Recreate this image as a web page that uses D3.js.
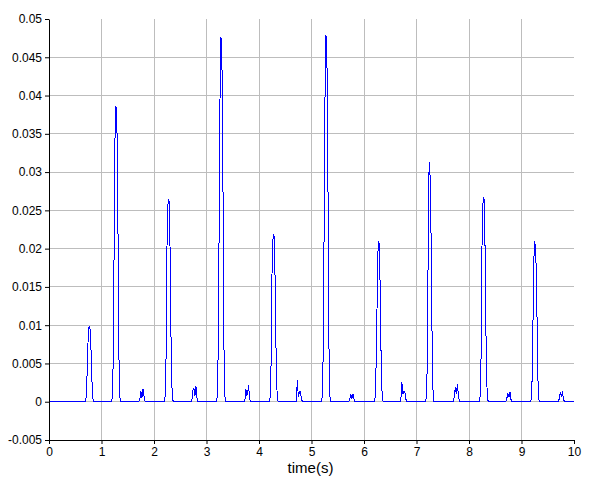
<!DOCTYPE html>
<html>
<head>
<meta charset="utf-8">
<script src="https://cdn.jsdelivr.net/npm/d3@7"></script>
<style>
  html, body { margin: 0; padding: 0; background: #ffffff; }
  svg { display: block; }
  .tick text { font-family: "Liberation Sans", Arial, sans-serif; font-size: 12px; fill: #000; }
</style>
</head>
<body>
<svg id="chart" width="594" height="483"></svg>
<script>
// ---- data ----
const time = [
  0.00,
  0.69, 0.71, 0.73, 0.75, 0.77, 0.79, 0.81, 0.83, 0.85,
  1.19, 1.21, 1.23, 1.25, 1.27, 1.29, 1.31, 1.33, 1.35, 1.37,
  1.71, 1.73, 1.75, 1.77, 1.79, 1.81, 1.83, 1.85,
  2.19, 2.21, 2.23, 2.25, 2.27, 2.29, 2.31, 2.33, 2.35, 2.37,
  2.72, 2.74, 2.76, 2.78, 2.80, 2.82, 2.84,
  3.19, 3.21, 3.23, 3.25, 3.27, 3.29, 3.31, 3.33, 3.35, 3.37,
  3.72, 3.74, 3.75, 3.77, 3.79, 3.80, 3.82, 3.84,
  4.19, 4.21, 4.23, 4.25, 4.27, 4.29, 4.31, 4.33, 4.35, 4.37,
  4.71, 4.73, 4.75, 4.77, 4.79, 4.81, 4.83,
  5.19, 5.21, 5.23, 5.25, 5.27, 5.29, 5.31, 5.33, 5.35, 5.37,
  5.71, 5.73, 5.75, 5.77, 5.79, 5.81, 5.83,
  6.19, 6.21, 6.23, 6.25, 6.27, 6.29, 6.31, 6.33, 6.35, 6.37,
  6.70, 6.72, 6.74, 6.76, 6.78, 6.80, 6.82,
  7.17, 7.19, 7.21, 7.23, 7.25, 7.27, 7.29, 7.31, 7.33,
  7.70, 7.72, 7.74, 7.76, 7.78, 7.80, 7.82,
  8.19, 8.21, 8.23, 8.25, 8.27, 8.29, 8.31, 8.33, 8.35, 8.37,
  8.70, 8.72, 8.74, 8.76, 8.78, 8.80, 8.82,
  9.17, 9.19, 9.21, 9.23, 9.25, 9.27, 9.29, 9.31, 9.33, 9.35,
  9.70, 9.72, 9.74, 9.76, 9.78, 9.80, 9.82,
  10.00
];
const amplitude = [
  0,
  0, 0.0006, 0.0045, 0.0094, 0.0099, 0.0092, 0.0044, 0.0006, 0,
  0, 0.0008, 0.0083, 0.0321, 0.0385, 0.0384, 0.0265, 0.0066, 0.0005, 0,
  0, 0.0003, 0.0014, 0.0005, 0.0017, 0.0007, 0.0001, 0,
  0, 0.0006, 0.0058, 0.0221, 0.0265, 0.0262, 0.0183, 0.0045, 0.0004, 0,
  0, 0.0015, 0.0018, 0.0008, 0.0020, 0.0004, 0,
  0, 0.0010, 0.0105, 0.0350, 0.0475, 0.0473, 0.0330, 0.0082, 0.0007, 0,
  0, 0.0006, 0.0016, 0.0008, 0.0015, 0.0022, 0.0005, 0,
  0, 0.0005, 0.0048, 0.0181, 0.0218, 0.0216, 0.0150, 0.0037, 0.0003, 0,
  0, 0.0028, 0.0006, 0.0013, 0.0013, 0.0003, 0,
  0, 0.0009, 0.0100, 0.0352, 0.0478, 0.0476, 0.0330, 0.0083, 0.0007, 0,
  0, 0.0004, 0.0010, 0.0004, 0.0010, 0.0003, 0,
  0, 0.0005, 0.0046, 0.0130, 0.0209, 0.0207, 0.0144, 0.0036, 0.0003, 0,
  0, 0.0026, 0.0010, 0.0014, 0.0012, 0.0003, 0,
  0, 0.0006, 0.0065, 0.0290, 0.0313, 0.0267, 0.0120, 0.0020, 0,
  0, 0.0007, 0.0019, 0.0010, 0.0023, 0.0006, 0,
  0, 0.0006, 0.0058, 0.0222, 0.0267, 0.0264, 0.0184, 0.0046, 0.0004, 0,
  0, 0.0004, 0.0011, 0.0006, 0.0013, 0.0003, 0,
  0, 0.0005, 0.0046, 0.0175, 0.0210, 0.0200, 0.0140, 0.0035, 0.0003, 0,
  0, 0.0004, 0.0012, 0.0006, 0.0014, 0.0003, 0,
  0
];
const xTicks = [0, 1, 2, 3, 4, 5, 6, 7, 8, 9, 10];
const yTicks = [-0.005, 0, 0.005, 0.01, 0.015, 0.02, 0.025, 0.03, 0.035, 0.04, 0.045, 0.05];
const yTickLabels = ["-0.005", "0", "0.005", "0.01", "0.015", "0.02", "0.025", "0.03", "0.035", "0.04", "0.045", "0.05"];
const xLabel = "time(s)";

// ---- layout ----
const mLeft = 49, mRight = 574, mTop = 19, mBottom = 440;
const svg = d3.select("#chart");
const x = d3.scaleLinear().domain([0, 10]).range([mLeft, mRight]);
const y = d3.scaleLinear().domain([-0.005, 0.05]).range([mBottom, mTop]);

// grid
const grid = svg.append("g").attr("shape-rendering", "crispEdges");
grid.selectAll("line.vx").data(xTicks.filter(d => d > 0 && d < 10)).join("line")
  .attr("x1", d => x(d)).attr("x2", d => x(d)).attr("y1", mTop).attr("y2", mBottom)
  .attr("stroke", "#bdbdbd").attr("stroke-width", 1);
grid.selectAll("line.hy").data(yTicks.filter(d => d > -0.005 && d < 0.05)).join("line")
  .attr("x1", mLeft).attr("x2", mRight).attr("y1", d => y(d)).attr("y2", d => y(d))
  .attr("stroke", "#bdbdbd").attr("stroke-width", 1);

// signal line
const pts = time.map((t, i) => [t, amplitude[i]]);
svg.append("path")
  .datum(pts)
  .attr("fill", "none")
  .attr("stroke", "#0000ff")
  .attr("stroke-width", 1)
  .attr("shape-rendering", "crispEdges")
  .attr("d", d3.line().x(d => x(d[0])).y(d => y(d[1])));

// axes
const xAxis = d3.axisBottom(x).tickValues(xTicks).tickFormat(d3.format("d")).tickSize(4).tickSizeOuter(0).tickPadding(3);
const yAxis = d3.axisLeft(y).tickValues(yTicks).tickFormat((d, i) => yTickLabels[i]).tickSize(4).tickSizeOuter(0).tickPadding(3);
svg.append("g").attr("transform", `translate(0,${mBottom})`).call(xAxis)
  .call(g => g.selectAll("path,line").attr("stroke", "#000"));
svg.append("g").attr("transform", `translate(${mLeft},0)`).call(yAxis)
  .call(g => g.selectAll("path,line").attr("stroke", "#000"));

// axis label
svg.append("text")
  .attr("x", (mLeft + mRight) / 2 - 1)
  .attr("y", 473)
  .attr("text-anchor", "middle")
  .attr("font-family", "'Liberation Sans', Arial, sans-serif")
  .attr("font-size", 15)
  .attr("fill", "#000")
  .text(xLabel);
</script>
</body>
</html>
